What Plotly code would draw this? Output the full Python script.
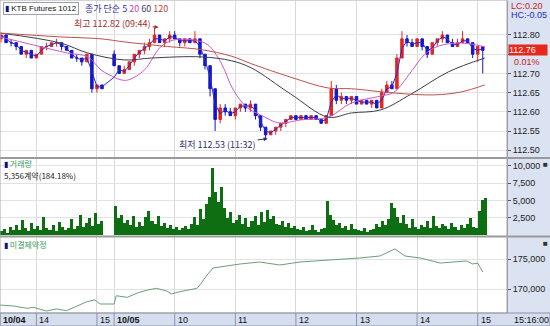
import plotly.graph_objects as go
import pandas as pd

W, H = 550, 326

# ---------------- helpers for session times ----------------
def session_times(date, start, count, step):
    h, m = map(int, start.split(":"))
    out = []
    for i in range(count):
        t = h * 60 + m + i * step
        out.append(f"{date} {t // 60:02d}:{t % 60:02d}")
    return out

def tpos(s):
    # trading-minute axis: 10/04 13:24 -> 0, 10/05 09:00 -> 113
    d, hm = s.split()
    h, m = map(int, hm.split(":"))
    mins = h * 60 + m
    if d == "10/04":
        return mins - (13 * 60 + 24)
    return 113 + mins - 9 * 60

# ---------------- price candles (5-minute bars) ----------------
candle_time = session_times("10/04", "13:25", 21, 5) + session_times("10/05", "09:00", 74, 5)
candle_open = [
    112.79, 112.80, 112.78, 112.78, 112.77, 112.75, 112.76, 112.74, 112.75, 112.77, 112.77,
    112.78, 112.78, 112.77, 112.76, 112.74, 112.74, 112.73, 112.75, 112.66, 112.67,
    112.75, 112.72, 112.70, 112.71, 112.73, 112.75, 112.76, 112.77, 112.78, 112.80, 112.78, 112.79,
    112.80, 112.79, 112.78, 112.79, 112.78, 112.79, 112.75, 112.72, 112.66, 112.58, 112.61, 112.60,
    112.59, 112.61, 112.62, 112.61, 112.62, 112.59, 112.56, 112.54, 112.55, 112.56, 112.57, 112.58,
    112.59, 112.58, 112.59, 112.58, 112.59, 112.58, 112.57, 112.59, 112.66, 112.63, 112.64, 112.63,
    112.64, 112.62, 112.63, 112.62, 112.63, 112.61, 112.65, 112.67, 112.66, 112.74, 112.79, 112.78,
    112.77, 112.79, 112.77, 112.75, 112.78, 112.79, 112.80, 112.78, 112.77, 112.78, 112.79, 112.78,
    112.75, 112.77,
]
candle_high = [
    112.80, 112.80, 112.79, 112.78, 112.77, 112.76, 112.76, 112.75, 112.77, 112.78, 112.78,
    112.79, 112.78, 112.77, 112.76, 112.75, 112.74, 112.75, 112.75, 112.67, 112.67,
    112.76, 112.72, 112.72, 112.73, 112.75, 112.76, 112.78, 112.79, 112.82, 112.80, 112.79, 112.81,
    112.81, 112.79, 112.79, 112.79, 112.81, 112.79, 112.75, 112.72, 112.66, 112.62, 112.62, 112.61,
    112.61, 112.62, 112.62, 112.63, 112.62, 112.59, 112.56, 112.55, 112.56, 112.57, 112.58, 112.59,
    112.59, 112.59, 112.59, 112.59, 112.59, 112.58, 112.59, 112.68, 112.67, 112.65, 112.64, 112.64,
    112.64, 112.63, 112.63, 112.63, 112.63, 112.66, 112.68, 112.68, 112.75, 112.81, 112.80, 112.79,
    112.79, 112.79, 112.77, 112.78, 112.79, 112.81, 112.80, 112.79, 112.79, 112.81, 112.79, 112.78,
    112.77, 112.77,
]
candle_low = [
    112.78, 112.78, 112.77, 112.76, 112.75, 112.74, 112.74, 112.74, 112.75, 112.76, 112.77,
    112.77, 112.76, 112.76, 112.74, 112.73, 112.72, 112.73, 112.65, 112.65, 112.66,
    112.72, 112.70, 112.70, 112.71, 112.72, 112.74, 112.75, 112.76, 112.78, 112.78, 112.77, 112.78,
    112.79, 112.77, 112.77, 112.78, 112.78, 112.74, 112.71, 112.64, 112.55, 112.57, 112.59, 112.59,
    112.58, 112.60, 112.60, 112.60, 112.58, 112.55, 112.53, 112.54, 112.54, 112.55, 112.56, 112.58,
    112.58, 112.58, 112.58, 112.58, 112.58, 112.57, 112.57, 112.59, 112.62, 112.62, 112.62, 112.62,
    112.62, 112.62, 112.62, 112.61, 112.61, 112.61, 112.65, 112.66, 112.66, 112.74, 112.77, 112.77,
    112.77, 112.76, 112.74, 112.75, 112.77, 112.78, 112.78, 112.77, 112.77, 112.78, 112.78, 112.74,
    112.73, 112.70,
]
candle_close = [
    112.80, 112.78, 112.78, 112.77, 112.75, 112.76, 112.74, 112.75, 112.77, 112.77, 112.78,
    112.78, 112.77, 112.76, 112.74, 112.74, 112.73, 112.75, 112.66, 112.67, 112.66,
    112.72, 112.70, 112.71, 112.73, 112.75, 112.76, 112.77, 112.78, 112.80, 112.78, 112.79, 112.80,
    112.79, 112.78, 112.79, 112.78, 112.79, 112.75, 112.72, 112.66, 112.58, 112.61, 112.60, 112.59,
    112.61, 112.62, 112.61, 112.62, 112.59, 112.56, 112.54, 112.55, 112.56, 112.57, 112.58, 112.59,
    112.58, 112.59, 112.58, 112.59, 112.58, 112.57, 112.59, 112.66, 112.63, 112.64, 112.63, 112.64,
    112.62, 112.63, 112.62, 112.63, 112.61, 112.65, 112.67, 112.66, 112.74, 112.79, 112.78, 112.77,
    112.79, 112.77, 112.75, 112.78, 112.79, 112.80, 112.78, 112.77, 112.78, 112.79, 112.78, 112.75,
    112.77, 112.76,
]

# ---------------- moving averages ----------------
ma20_time = ["10/04 13:24", "10/04 13:57", "10/04 14:31", "10/04 14:51", "10/04 15:04",
             "10/05 09:00", "10/05 09:07", "10/05 09:14", "10/05 09:30", "10/05 09:46",
             "10/05 09:59", "10/05 10:19", "10/05 10:33", "10/05 10:46", "10/05 10:58",
             "10/05 11:12", "10/05 11:25", "10/05 11:40", "10/05 11:48", "10/05 12:05",
             "10/05 12:32", "10/05 12:55", "10/05 13:24", "10/05 13:37", "10/05 13:54",
             "10/05 14:07", "10/05 14:21", "10/05 14:44", "10/05 15:07"]
ma20_val = [112.795, 112.774, 112.753, 112.743, 112.709,
            112.690, 112.683, 112.683, 112.709, 112.769,
            112.787, 112.787, 112.774, 112.727, 112.657,
            112.610, 112.592, 112.573, 112.571, 112.579,
            112.586, 112.623, 112.641, 112.651, 112.704,
            112.748, 112.771, 112.779, 112.769]

ma60_time = ["10/04 13:24", "10/04 14:24", "10/04 14:51", "10/05 09:10", "10/05 09:37",
             "10/05 10:26", "10/05 10:56", "10/05 11:16", "10/05 11:55", "10/05 12:32",
             "10/05 12:55", "10/05 13:24", "10/05 13:54", "10/05 14:31", "10/05 15:07"]
ma60_val = [112.805, 112.779, 112.753, 112.735, 112.740,
            112.743, 112.733, 112.714, 112.646, 112.586,
            112.597, 112.605, 112.646, 112.704, 112.740]

ma120_time = ["10/04 13:24", "10/04 14:24", "10/04 15:04", "10/05 09:10", "10/05 09:53",
              "10/05 10:26", "10/05 10:56", "10/05 11:16", "10/05 11:55", "10/05 12:32",
              "10/05 12:55", "10/05 13:37", "10/05 14:17", "10/05 14:44", "10/05 15:07"]
ma120_val = [112.805, 112.795, 112.790, 112.782, 112.770,
             112.762, 112.745, 112.725, 112.690, 112.662,
             112.660, 112.649, 112.644, 112.652, 112.670]

# ---------------- volume (3-minute bars) ----------------
vol_time = session_times("10/04", "13:24", 34, 3) + session_times("10/05", "09:00", 123, 3)
vol_val = [
    600, 900, 400, 1200, 700, 1500, 800, 2200, 1000, 600, 1800, 900, 1300, 700, 2600, 1100, 800,
    1500, 600, 1900, 1200, 700, 1000, 2400, 900, 1400, 3000, 1200, 1800, 2500, 1300, 3200, 1700, 2000,
    4200, 2500, 3000, 1800, 2200, 1500, 2800, 1200, 1900, 1400, 2600,
    3500, 2000, 1600, 2800, 1300, 1800, 1100, 1500, 900, 1200,
    800, 1000, 1400, 900, 1700, 2600, 1500, 3800, 2400,
    4500, 5500, 9700, 6200, 4800, 7000, 3900,
    2500, 3400, 1800, 2200, 3000, 1600, 2500, 1200, 2000, 2800, 1500, 3300, 1900,
    3600, 2400, 2800, 1700, 1500, 2100, 1200, 1800, 1000, 1400,
    900, 700, 1200, 600, 800, 1500, 700, 500, 900, 1100,
    5000, 3000, 2200, 1500, 1800, 1000, 1300, 800, 1600, 900,
    700, 600, 1100, 500, 800, 900, 1600, 1200, 2000, 1500,
    2300, 4700, 3900, 2600, 1800, 3000, 1700, 1100, 2400, 1200,
    900, 1500, 1200, 2000, 1100, 2800, 1400, 1000, 1600, 1300,
    900, 1800, 1200, 700, 1500, 1000, 1700, 2500, 1200, 1100,
    3500, 5100, 5400,
]

# ---------------- open interest ----------------
oi_time = ["10/04 13:24", "10/04 13:37", "10/04 13:51", "10/04 13:57", "10/04 14:10", "10/04 14:20",
           "10/04 14:30", "10/04 14:40", "10/04 14:50", "10/04 14:58", "10/04 15:03",
           "10/05 09:00", "10/05 09:02", "10/05 09:13", "10/05 09:23", "10/05 09:33", "10/05 09:42",
           "10/05 09:52", "10/05 09:57", "10/05 10:05", "10/05 10:12", "10/05 10:22", "10/05 10:25",
           "10/05 10:32", "10/05 10:38", "10/05 10:50", "10/05 11:05", "10/05 11:24", "10/05 11:44",
           "10/05 12:04", "10/05 12:34", "10/05 13:03", "10/05 13:23", "10/05 13:38", "10/05 13:48",
           "10/05 14:03", "10/05 14:23", "10/05 14:33", "10/05 14:49", "10/05 14:55", "10/05 15:00",
           "10/05 15:05"]
oi_val = [167330, 167170, 166780, 166950, 166330, 166670,
          166390, 167170, 167880, 168170, 167500,
          167500, 168880, 168610, 169330, 169830, 170110,
          169670, 169170, 169550, 169830, 170110, 170670,
          172330, 173500, 173830, 174170, 174500, 174000,
          174500, 174830, 175170, 175500, 176670, 175500,
          175170, 174330, 174500, 174670, 174170, 174330,
          172830]

# axis labels
grid_time = ["10/04 14:00", "10/04 15:00", "10/05 09:00", "10/05 10:00", "10/05 11:00",
             "10/05 12:00", "10/05 13:00", "10/05 14:00", "10/05 15:00"]
band_label_time = ["10/04 13:24"] + grid_time
band_label_text = ["<b>10/04</b>", "14", "15", "<b>10/05</b>", "10", "11", "12", "13", "14", "15"]
price_ticks = [112.50, 112.55, 112.60, 112.65, 112.70, 112.75, 112.80]
price_tick_text = ["112.50", "112.55", "112.60", "112.65", "112.70", "", "112.80"]  # 112.75 hidden by last-price box
vol_ticks = [2500, 5000, 7500, 10000]
oi_ticks = [170000, 175000]

# ---------------- geometry ----------------
PX_RIGHT = 507
XDOM = [0, PX_RIGHT / W]
def ydom(top_px, bot_px):
    return [1 - bot_px / H, 1 - top_px / H]
XR = [0, 502]

NUM = "Liberation Sans"
KR = "Noto Sans CJK KR"

fig = go.Figure()

xs_c = [tpos(t) for t in candle_time]
fig.add_trace(go.Candlestick(
    x=xs_c, open=candle_open, high=candle_high, low=candle_low, close=candle_close,
    increasing=dict(line=dict(color="#e8261c", width=1), fillcolor="#e8261c"),
    decreasing=dict(line=dict(color="#1414c8", width=1), fillcolor="#1414c8"),
    xaxis="x", yaxis="y", showlegend=False, whiskerwidth=0))

ma5 = pd.Series(candle_close).rolling(2, min_periods=1).mean()
fig.add_trace(go.Scatter(x=xs_c, y=ma5, mode="lines", line=dict(color="#2a2ad0", width=1),
                         xaxis="x", yaxis="y", showlegend=False))
fig.add_trace(go.Scatter(x=[tpos(t) for t in ma20_time], y=ma20_val, mode="lines",
                         line=dict(color="#c85ac8", width=1, shape="spline"),
                         xaxis="x", yaxis="y", showlegend=False))
fig.add_trace(go.Scatter(x=[tpos(t) for t in ma60_time], y=ma60_val, mode="lines",
                         line=dict(color="#3c3c50", width=1, shape="spline"),
                         xaxis="x", yaxis="y", showlegend=False))
fig.add_trace(go.Scatter(x=[tpos(t) for t in ma120_time], y=ma120_val, mode="lines",
                         line=dict(color="#c0504a", width=1, shape="spline"),
                         xaxis="x", yaxis="y", showlegend=False))

fig.add_trace(go.Bar(x=[tpos(t) for t in vol_time], y=vol_val, width=3, offset=0,
                     marker=dict(color="#0e6e12", line=dict(width=0)),
                     xaxis="x2", yaxis="y2", showlegend=False))

fig.add_trace(go.Scatter(x=[tpos(t) for t in oi_time], y=oi_val, mode="lines",
                         line=dict(color="#6a9e78", width=1),
                         xaxis="x3", yaxis="y3", showlegend=False))

grid_x = [tpos(t) for t in grid_time]
xcommon = dict(domain=XDOM, range=XR, tickvals=grid_x, showticklabels=False, ticks="",
               showgrid=True, gridcolor="#d9d9d9", gridwidth=1, zeroline=False, fixedrange=True)
ycommon = dict(side="right", showgrid=True, gridcolor="#e2e2e2", zeroline=False, ticks="outside",
               ticklen=3, tickcolor="#555", showline=True, linecolor="#8a94b0",
               tickfont=dict(family=NUM, size=9, color="#222"), fixedrange=True)

fig.update_layout(
    width=W, height=H, margin=dict(l=0, r=0, t=0, b=0),
    paper_bgcolor="white", plot_bgcolor="white", bargap=0,
    xaxis=dict(**xcommon, anchor="y", rangeslider=dict(visible=False)),
    xaxis2=dict(**xcommon, anchor="y2"),
    xaxis3=dict(**xcommon, anchor="y3"),
    yaxis=dict(**ycommon, domain=ydom(1, 157), range=[112.4823, 112.8885], anchor="x",
               tickvals=price_ticks, ticktext=price_tick_text),
    yaxis2=dict(**ycommon, domain=ydom(159, 236), range=[-100, 11006], anchor="x2",
                tickvals=vol_ticks, ticktext=[f"{v:,}" for v in vol_ticks]),
    yaxis3=dict(**ycommon, domain=ydom(237, 313), range=[166000, 178667], anchor="x3",
                tickvals=oi_ticks, ticktext=[f"{v:,}" for v in oi_ticks]),
)

shapes = []
# right axis column and bottom time band backgrounds
shapes.append(dict(type="rect", xref="paper", yref="paper", x0=PX_RIGHT / W, x1=1, y0=0, y1=1,
                   fillcolor="#dbe2f1", line=dict(width=0), layer="below"))
shapes.append(dict(type="rect", xref="paper", yref="paper", x0=0, x1=1, y0=0, y1=13 / H,
                   fillcolor="#d5ddef", line=dict(color="#8a94b0", width=1), layer="above"))
# panel separators
for ypx in (158, 236.5):
    shapes.append(dict(type="line", xref="paper", yref="paper", x0=0, x1=1,
                       y0=1 - ypx / H, y1=1 - ypx / H, line=dict(color="#9a9a9a", width=2)))
# outer frame
shapes.append(dict(type="rect", xref="paper", yref="paper", x0=0, x1=PX_RIGHT / W, y0=13 / H, y1=1,
                   line=dict(color="#a8a8a8", width=1), fillcolor="rgba(0,0,0,0)"))
# band dividers
for gx in [tpos(t) for t in band_label_time]:
    shapes.append(dict(type="line", xref="x3", yref="paper", x0=gx, x1=gx, y0=0, y1=13 / H,
                       line=dict(color="#8a94b0", width=1)))
fig.update_layout(shapes=shapes)

ann = []
def txt(text, xpx, ypx, color="#222", size=9, family=NUM, **kw):
    ann.append(dict(text=text, xref="paper", yref="paper", x=xpx / W, y=1 - ypx / H,
                    xanchor=kw.pop("xanchor", "left"), yanchor="middle", showarrow=False,
                    font=dict(color=color, size=size, family=family), **kw))

# legend header
txt("<span style='color:#101080'>▮</span> KTB Futures 1012", 3, 9, color="#111", size=8,
    bordercolor="#9aa0b0", borderwidth=1, bgcolor="white", borderpad=1)
txt("<span style='color:#3030a0'>종가 단순 5</span> <span style='color:#c040c0'>20</span> "
    "<span style='color:#404060'>60</span> <span style='color:#c04040'>120</span>",
    83, 9, family=KR + ", " + NUM, size=9)
txt("LC:0.20", 509, 6, color="#d02020")
txt("HC:-0.05", 509, 15, color="#2030c0")
# last price box
ann.append(dict(text="112.76", xref="paper", yref="y", x=PX_RIGHT / W + 0.002, y=112.76,
                xanchor="left", yanchor="middle", showarrow=False, bgcolor="#e8261c",
                width=38, align="left", borderpad=0,
                font=dict(color="white", size=9, family=NUM)))
txt("0.01%", 512, 62, color="#d02020")

# high / low labels
ann.append(dict(text="최고 112.82 (09:44)", xref="x", yref="y", x=tpos("10/05 09:44"), y=112.82,
                ax=-46, ay=-4, showarrow=True, arrowhead=2, arrowsize=0.8, arrowwidth=1,
                arrowcolor="#a03030", font=dict(color="#a03030", size=9, family=KR)))
ann.append(dict(text="최저 112.53 (11:32)", xref="x", yref="y", x=tpos("10/05 11:32"), y=112.53,
                ax=-50, ay=6, showarrow=True, arrowhead=2, arrowsize=0.8, arrowwidth=1,
                arrowcolor="#303070", font=dict(color="#303070", size=9, family=KR)))

# panel titles
txt("<span style='color:#101080'>▮</span> 거래량", 2, 163, color="#3a9a5a", size=8, family=KR)
txt("5,356계약(184.18%)", 2, 175, color="#222", size=8, family=KR + ", " + NUM)
txt("<span style='color:#101080'>▮</span> 미결제약정", 2, 244, color="#3a9a5a", size=8, family=KR)
txt("■", 545, 164, color="#333", size=8, xanchor="center")
txt("■", 545, 243, color="#333", size=8, xanchor="center")

# time band labels
for t, s in zip(band_label_time, band_label_text):
    ann.append(dict(text=s, xref="x3", yref="paper", x=tpos(t), y=6.5 / H, xanchor="left",
                    yanchor="middle", xshift=1, showarrow=False,
                    font=dict(color="#111", size=9, family=NUM)))
txt("15:16:00", 512, 319.5, color="#111")

fig.update_layout(annotations=ann)
fig.write_html("out.html")
